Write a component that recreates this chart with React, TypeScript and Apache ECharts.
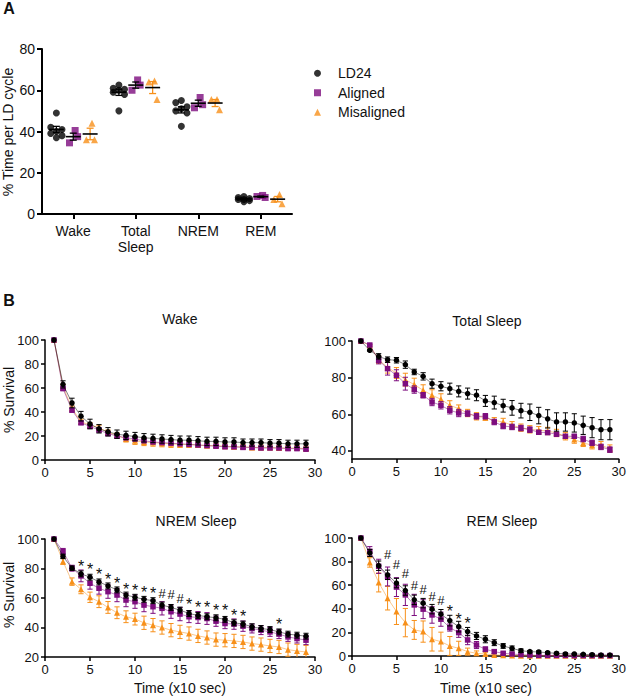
import React, { useEffect, useRef } from 'react';
import * as echarts from 'echarts';

const FONT = '"Liberation Sans", Arial, Helvetica, sans-serif';

// ---------- Panel A ----------
const categoriesA = ['Wake', 'Total\nSleep', 'NREM', 'REM'];
const groupNames = ['LD24', 'Aligned', 'Misaligned'];
const groupColors = ['#000000', '#7d0d7e', '#f7901a'];
const groupSymbols = ['circle', 'rect', 'triangle'];
const errColorsA = ['#000000', '#000000', '#f7901a'];

const ld24Points = [
  [49, 42, 41, 40, 39, 38, 37],
  [62.5, 61, 60.5, 60, 59, 58, 50],
  [55, 54, 52, 51, 50, 49, 42.5],
  [8.5, 8, 7.5, 7, 7, 6.5, 6],
];
const alignedPoints = [
  [40.5, 34.5, 37.5],
  [65, 60, 62.5],
  [56.5, 51.5, 53],
  [9, 8.5, 8],
];
const misalignedPoints = [
  [44, 36, 36],
  [64.5, 64, 55.5],
  [55.5, 55.5, 50.5],
  [9.5, 7, 5],
];
const ld24Mean = [41, 59, 50.5, 7.3];
const ld24Sem = [1.5, 1.5, 1.5, 0.35];
const alignedMean = [37.5, 62.5, 53.7, 8.4];
const alignedSem = [1.7, 1.5, 1.5, 0.3];
const misalignedMean = [38.8, 61.3, 53.8, 7.2];
const misalignedSem = [2.8, 2.9, 1.7, 1.3];

// ---------- Panel B ----------
const timeBins = [1, 2, 3, 4, 5, 6, 7, 8, 9, 10, 11, 12, 13, 14, 15, 16, 17, 18, 19, 20, 21, 22, 23, 24, 25, 26, 27, 28, 29];

const wakeLD24 = [100, 63, 47.5, 36.5, 30, 26, 23.5, 21.5, 20.5, 19.5, 18.5, 18, 17.5, 17, 16.5, 16.5, 16, 15.5, 15.5, 15, 15, 14.5, 14.5, 14.5, 14, 14, 13.5, 13.5, 13.5];
const wakeLD24Err = [0, 3, 4, 4, 4, 3.5, 3.5, 3.5, 3.5, 3.5, 3.5, 3.5, 3.5, 3.5, 3.5, 3.5, 3.5, 3.5, 3.5, 3.5, 3.5, 3, 3, 3, 3, 3, 3, 3, 3];
const wakeAligned = [100, 59.5, 41.5, 31, 28, 25, 22, 20, 18.5, 17.5, 16, 15, 14.5, 14, 13.5, 13, 12.5, 12, 11.5, 11, 11, 10.5, 10.5, 10, 10, 10, 9.5, 9.5, 9];
const wakeAlignedErr = [0, 1.5, 1.5, 1.5, 1.5, 1.5, 1.5, 1.5, 1, 1, 1, 1, 1, 1, 1, 1, 1, 1, 1, 1, 1, 1, 1, 1, 1, 1, 1, 1, 1];
const wakeMis = [100, 61, 43, 32, 29, 27, 23, 20.5, 17.5, 16, 15, 14.5, 14, 13.5, 13, 13, 12.5, 12, 12, 11.5, 11, 11, 10.5, 10.5, 10.5, 10, 10, 10, 9.5];
const wakeMisErr = [0, 2, 2, 2, 2, 2, 2, 2, 2.5, 3, 3, 3, 3, 3, 2.5, 2.5, 2, 2, 2, 2, 2, 2, 2, 2, 2, 2, 2, 2, 2];

const tsLD24 = [100, 94.9, 91.6, 89.8, 89.5, 87.1, 83.1, 80.7, 76.7, 75.3, 74, 72.5, 71.3, 70.4, 67.3, 66.4, 64.7, 63.5, 62, 61.1, 59.3, 57.5, 55.8, 55.8, 55.3, 54, 52.7, 51.6, 51.6];
const tsLD24Err = [0, 0.5, 1.5, 1.5, 1.5, 2, 1.5, 2, 2.5, 2.5, 3, 3, 3, 3, 3, 3.5, 3.5, 4, 4, 4.5, 4.5, 5, 5, 5, 5, 5, 5.5, 5.5, 5.5];
const tsAligned = [100, 97.8, 89.5, 84.9, 81.3, 76.7, 73.5, 70.4, 66.7, 64.9, 62.2, 60.7, 60.4, 58.9, 58.9, 55.8, 53.6, 53.1, 52.5, 51.6, 50.2, 50, 49.1, 48, 48, 46.5, 44.4, 42.2, 40.7];
const tsAlignedErr = [0, 0.5, 2, 3.5, 3, 3.5, 2, 1.5, 2, 2, 2, 2, 1.5, 1.5, 1.5, 1.5, 1.5, 1.5, 1.5, 1.5, 1, 1, 1, 1, 1, 1.5, 1.5, 1.5, 1.5];
const tsMis = [100, 97.5, 89.8, 85.5, 82.5, 78.9, 76.2, 73.1, 70.4, 68.2, 64.9, 63.1, 60.7, 58.9, 58.2, 56.7, 55.8, 54, 52.7, 51.8, 51.3, 50.9, 49.8, 48, 46.2, 44.4, 43.1, 43.1, 41.3];
const tsMisErr = [0, 0.5, 2, 3, 3, 3.5, 3.5, 3, 3, 3, 2.5, 2, 2, 2, 1.5, 1.5, 2, 2, 2, 2, 2, 2, 2, 2, 2, 2, 2, 2, 2];

const nremLD24 = [100, 88.2, 80.2, 76.4, 74.1, 70.9, 68.2, 65.5, 62, 60.5, 59.1, 58.2, 55.2, 53.6, 51.8, 49.5, 48.2, 47.3, 46.6, 45.5, 43.2, 42.3, 40.5, 39.3, 38.6, 37, 35.5, 34.8, 34.1];
const nremLD24Err = [0, 1.5, 1.5, 2, 2, 2, 2, 2, 2, 2, 2, 2, 2, 2, 2, 2, 2, 2, 2, 2, 2, 2, 2, 2, 2, 2, 2, 2, 2];
const nremAligned = [100, 91.6, 80.2, 75, 70, 66.6, 64.3, 62, 58.6, 57.5, 55.2, 54.1, 53, 50.7, 49.1, 47.3, 46.8, 46.1, 44.3, 42.7, 42.3, 40.9, 39.3, 38.2, 37, 35.5, 33.6, 32.5, 31.4];
const nremAlignedErr = [0, 2, 2, 4, 4, 4, 4.5, 4.5, 4.5, 4.5, 4.5, 4.5, 4.5, 4.5, 4.5, 4, 4, 4, 3.5, 3.5, 3.5, 3.5, 3, 3, 3, 3, 3, 3, 3];
const nremMis = [100, 84.8, 71.1, 65.9, 60.5, 57.5, 53.6, 50, 47.3, 45.7, 43.2, 41.6, 40, 38.2, 37, 35.9, 34.3, 33.2, 31.8, 31.4, 30.9, 30.2, 29.1, 28.4, 27.5, 26.8, 25, 24.1, 23.4];
const nremMisErr = [0, 2, 2.5, 3, 3.5, 4, 4, 4, 4, 4, 4.5, 4.5, 4.5, 4.5, 4.5, 4.5, 4.5, 4.5, 4.5, 4.5, 4.5, 4.5, 4.5, 4.5, 4.5, 4.5, 4.5, 4.5, 4.5];

const remLD24 = [100, 87.3, 76.5, 68.8, 61.8, 55.5, 47.6, 44.8, 39.7, 35.4, 30, 24.9, 20.7, 17, 14.2, 11.3, 8.5, 6.5, 4.5, 3.7, 3.4, 2.8, 2.3, 1.7, 1.7, 1.4, 1.1, 0.8, 0.8];
const remLD24Err = [0, 3, 4, 4, 4, 4, 4, 4, 4, 4, 4.5, 4.5, 3.5, 3, 3, 2.5, 2, 2, 1.5, 1, 1, 1, 1, 1, 0.5, 0.5, 0.5, 0.5, 0.5];
const remAligned = [100, 88.7, 76, 67.4, 58.4, 51.8, 43.3, 39.7, 34.8, 31.2, 24.1, 19.8, 13.6, 9.3, 5.7, 3.7, 2.3, 1.7, 1.1, 0.8, 0.5, 0.5, 0.5, 0.5, 0.3, 0.3, 0.3, 0.3, 0.3];
const remAlignedErr = [0, 4, 6, 8, 8, 9, 9, 8, 7, 6, 3, 4, 4, 3, 2, 1.5, 1, 1, 0.5, 0.5, 0.3, 0.3, 0.3, 0.3, 0.3, 0.3, 0.3, 0.3, 0.3];
const remMis = [100, 79.3, 62.3, 49, 37.7, 28.3, 22.1, 20.7, 14.2, 12.2, 8.5, 6.5, 3.7, 2.3, 1.7, 0.8, 0.6, 0.4, 0.3, 0.3, 0.3, 0.3, 0.3, 0.3, 0.3, 0.3, 0.3, 0.3, 0.3];
const remMisErr = [0, 4, 8, 10, 11, 12, 8, 9, 10, 8, 8, 6, 3, 2, 1.5, 1, 0.5, 0.5, 0.3, 0.3, 0.3, 0.3, 0.3, 0.3, 0.3, 0.3, 0.3, 0.3, 0.3];

const nremMarkX = [4, 5, 6, 7, 8, 9, 10, 11, 12, 13, 14, 15, 16, 17, 18, 19, 20, 21, 22, 26];
const nremMarkY = [83.6, 81.4, 78, 75, 72.3, 68.2, 67.3, 65.9, 65.5, 63.2, 62.7, 59.8, 58.2, 55.9, 55.9, 54.1, 53.6, 50.7, 49.5, 44.5];
const nremMarkText = ['*', '*', '*', '*', '*', '*', '*', '*', '*', '#', '#', '#', '*', '*', '*', '*', '*', '*', '*', '*'];

const remMarkX = [4, 5, 6, 7, 8, 9, 10, 11, 12, 13];
const remMarkY = [85.8, 77.3, 70.3, 59.5, 56.1, 50.4, 47, 40.5, 34, 30.6];
const remMarkText = ['#', '#', '#', '#', '#', '#', '#', '*', '*', '*'];

// layout constants
const groupOffsets = [-0.27, 0, 0.27];
const jitter7 = [0, -0.09, 0.09, 0, -0.09, 0.09, 0];
const jitter3 = [0.03, -0.06, 0.07];

const panels = [
  { title: 'Wake', data: [wakeLD24, wakeAligned, wakeMis], err: [wakeLD24Err, wakeAlignedErr, wakeMisErr], grid: { left: 45, top: 340, width: 270, height: 120 }, min: 0, ticks: [0, 20, 40, 60, 80, 100] },
  { title: 'Total Sleep', data: [tsLD24, tsAligned, tsMis], err: [tsLD24Err, tsAlignedErr, tsMisErr], grid: { left: 352, top: 341, width: 270, height: 118 }, min: 35.6, ticks: [40, 60, 80, 100] },
  { title: 'NREM Sleep', data: [nremLD24, nremAligned, nremMis], err: [nremLD24Err, nremAlignedErr, nremMisErr], grid: { left: 45, top: 539, width: 270, height: 118 }, min: 20, ticks: [20, 40, 60, 80, 100] },
  { title: 'REM Sleep', data: [remLD24, remAligned, remMis], err: [remLD24Err, remAlignedErr, remMisErr], grid: { left: 352, top: 538, width: 270, height: 118 }, min: 0, ticks: [0, 20, 40, 60, 80, 100] },
];

function buildOption() {
  const pointsA = [ld24Points, alignedPoints, misalignedPoints];
  const meansA = [ld24Mean, alignedMean, misalignedMean];
  const semsA = [ld24Sem, alignedSem, misalignedSem];

  const series: any[] = [];

  // Panel A scatter
  for (let g = 0; g < 3; g++) {
    const data: number[][] = [];
    pointsA[g].forEach((vals, c) => {
      const jit = vals.length === 7 ? jitter7 : jitter3;
      vals.forEach((v, k) => data.push([c + 0.5 + groupOffsets[g] + jit[k], v]));
    });
    series.push({
      type: 'scatter', name: groupNames[g], xAxisIndex: 1, yAxisIndex: 0,
      symbol: groupSymbols[g], symbolSize: 7, itemStyle: { color: groupColors[g] },
      data, z: 3,
    });
  }
  // Panel A mean + SEM
  for (let g = 0; g < 3; g++) {
    const ec = errColorsA[g];
    series.push({
      type: 'custom', xAxisIndex: 1, yAxisIndex: 0, silent: true, z: 4,
      data: meansA[g].map((m, c) => [c + 0.5 + groupOffsets[g], m, semsA[g][c]]),
      renderItem: (params: any, api: any) => {
        const x = api.value(0), m = api.value(1), e = api.value(2);
        const pm = api.coord([x, m]);
        const pt = api.coord([x, m + e]);
        const pb = api.coord([x, m - e]);
        const cw = 3.5, mw = 7.5;
        return {
          type: 'group',
          children: [
            { type: 'line', shape: { x1: pt[0], y1: pt[1], x2: pb[0], y2: pb[1] }, style: { stroke: ec, lineWidth: 1.3 } },
            { type: 'line', shape: { x1: pt[0] - cw, y1: pt[1], x2: pt[0] + cw, y2: pt[1] }, style: { stroke: ec, lineWidth: 1.3 } },
            { type: 'line', shape: { x1: pb[0] - cw, y1: pb[1], x2: pb[0] + cw, y2: pb[1] }, style: { stroke: ec, lineWidth: 1.3 } },
            { type: 'line', shape: { x1: pm[0] - mw, y1: pm[1], x2: pm[0] + mw, y2: pm[1] }, style: { stroke: '#000', lineWidth: 1.6 } },
          ],
        };
      },
    });
  }

  // Panel B
  panels.forEach((p, pi) => {
    const xi = pi + 2, yi = pi + 1;
    [2, 1, 0].forEach((g) => {
      const col = groupColors[g];
      series.push({
        type: 'custom', xAxisIndex: xi, yAxisIndex: yi, silent: true, clip: true, z: 2 + (2 - g),
        data: timeBins.map((t, i) => [t, p.data[g][i], p.err[g][i]]),
        renderItem: (params: any, api: any) => {
          const x = api.value(0), m = api.value(1), e = api.value(2);
          if (!e) return null;
          const pt = api.coord([x, m + e]);
          const pb = api.coord([x, m - e]);
          const cw = 2.6;
          return {
            type: 'group',
            children: [
              { type: 'line', shape: { x1: pt[0], y1: pt[1], x2: pb[0], y2: pb[1] }, style: { stroke: col, lineWidth: 1 } },
              { type: 'line', shape: { x1: pt[0] - cw, y1: pt[1], x2: pt[0] + cw, y2: pt[1] }, style: { stroke: col, lineWidth: 1 } },
              { type: 'line', shape: { x1: pb[0] - cw, y1: pb[1], x2: pb[0] + cw, y2: pb[1] }, style: { stroke: col, lineWidth: 1 } },
            ],
          };
        },
      });
      series.push({
        type: 'line', name: groupNames[g], xAxisIndex: xi, yAxisIndex: yi, z: 2 + (2 - g),
        symbol: groupSymbols[g], symbolSize: g === 2 ? 6 : 5.5, showSymbol: true,
        itemStyle: { color: col },
        lineStyle: { color: col, width: 0.9, opacity: 0.55 },
        data: timeBins.map((t, i) => [t, p.data[g][i]]),
      });
    });
  });

  const markSeries = (xs: number[], ys: number[], texts: string[], xi: number, yi: number) => ({
    type: 'custom', xAxisIndex: xi, yAxisIndex: yi, silent: true, z: 10,
    data: xs.map((x, i) => [x, ys[i]]),
    renderItem: (params: any, api: any) => {
      const pt = api.coord([api.value(0), api.value(1)]);
      const t = texts[params.dataIndex];
      const star = t === '*';
      return {
        type: 'text', x: pt[0], y: pt[1] + (star ? 3.5 : 0),
        style: { text: t, fill: '#111', fontSize: star ? 16 : 13, fontFamily: FONT, align: 'center', verticalAlign: 'middle' },
      };
    },
  });
  series.push(markSeries(nremMarkX, nremMarkY, nremMarkText, 4, 3));
  series.push(markSeries(remMarkX, remMarkY, remMarkText, 5, 4));

  const axisLineB = { show: true, onZero: false, lineStyle: { color: '#000', width: 1.5 } };
  const tickB = { show: true, length: 4, lineStyle: { color: '#000', width: 1.5 } };
  const labelB = { color: '#111', fontSize: 13, fontFamily: FONT, margin: 6 };

  const grids: any[] = [{ left: 42, top: 49, width: 250, height: 165 }, ...panels.map((p) => p.grid)];

  const xAxis: any[] = [
    {
      type: 'category', gridIndex: 0, data: categoriesA,
      axisLine: { show: true, lineStyle: { color: '#000', width: 2 } },
      axisTick: { show: true, alignWithLabel: true, length: 5, lineStyle: { color: '#000', width: 2 } },
      axisLabel: { color: '#111', fontSize: 14, fontFamily: FONT, margin: 9, lineHeight: 16 },
    },
    { type: 'value', gridIndex: 0, min: 0, max: 4, show: false },
    ...panels.map((p, pi) => ({
      type: 'value', gridIndex: pi + 1, min: 0, max: 30, interval: 5,
      axisLine: axisLineB, axisTick: tickB, axisLabel: labelB, splitLine: { show: false },
    })),
  ];

  const yAxis: any[] = [
    {
      type: 'value', gridIndex: 0, min: 0, max: 80, interval: 20,
      axisLine: { show: true, lineStyle: { color: '#000', width: 2 } },
      axisTick: { show: true, length: 5, lineStyle: { color: '#000', width: 2 } },
      axisLabel: { color: '#111', fontSize: 14, fontFamily: FONT, margin: 7 },
      splitLine: { show: false },
    },
    ...panels.map((p, pi) => ({
      type: 'value', gridIndex: pi + 1, min: p.min, max: 100,
      ...(p.min === 35.6 ? {} : { interval: 20 }),
      axisLine: axisLineB,
      axisTick: { ...tickB, customValues: p.ticks },
      axisLabel: { ...labelB, customValues: p.ticks },
      splitLine: { show: false },
    })),
  ];

  const txt = (text: string, x: number, y: number, size: number, extra: any = {}) => ({
    type: 'text', x, y, silent: true,
    style: { text, fill: '#111', fontSize: size, fontFamily: FONT, align: 'center', verticalAlign: 'middle', ...extra },
  });

  const graphic: any[] = [
    txt('A', 9, 8, 16, { fontWeight: 'bold' }),
    txt('B', 9, 300, 16, { fontWeight: 'bold' }),
    { ...txt('% Time per LD cycle', 8, 132, 14), rotation: Math.PI / 2 },
    txt('Wake', 180, 319, 14),
    txt('Total Sleep', 487, 321, 14),
    txt('NREM Sleep', 196, 521, 14),
    txt('REM Sleep', 502, 521, 14),
    { ...txt('% Survival', 9, 400, 14), rotation: Math.PI / 2 },
    { ...txt('% Survival', 9, 595, 14), rotation: Math.PI / 2 },
    txt('Time (x10 sec)', 180, 688, 14),
    txt('Time (x10 sec)', 486, 688, 14),
  ];

  return {
    animation: false,
    backgroundColor: '#ffffff',
    textStyle: { fontFamily: FONT },
    legend: {
      orient: 'vertical', left: 309, top: 61, itemWidth: 7, itemHeight: 7, itemGap: 5,
      selectedMode: false,
      textStyle: { fontSize: 14, color: '#111', fontFamily: FONT, lineHeight: 14.5, padding: [0, 0, 0, 12] },
      data: [
        { name: 'LD24', icon: 'circle' },
        { name: 'Aligned', icon: 'rect' },
        { name: 'Misaligned', icon: 'triangle' },
      ],
    },
    graphic,
    grid: grids,
    xAxis,
    yAxis,
    series,
  };
}

export default function App() {
  const ref = useRef<HTMLDivElement>(null);
  useEffect(() => {
    if (!ref.current) return;
    const chart = echarts.init(ref.current, null, { renderer: 'svg' });
    chart.setOption(buildOption() as any);
    return () => chart.dispose();
  }, []);
  return (
    <div
      ref={ref}
      style={{ position: 'absolute', left: 0, top: 0, width: 629, height: 697, background: '#fff' }}
    />
  );
}
